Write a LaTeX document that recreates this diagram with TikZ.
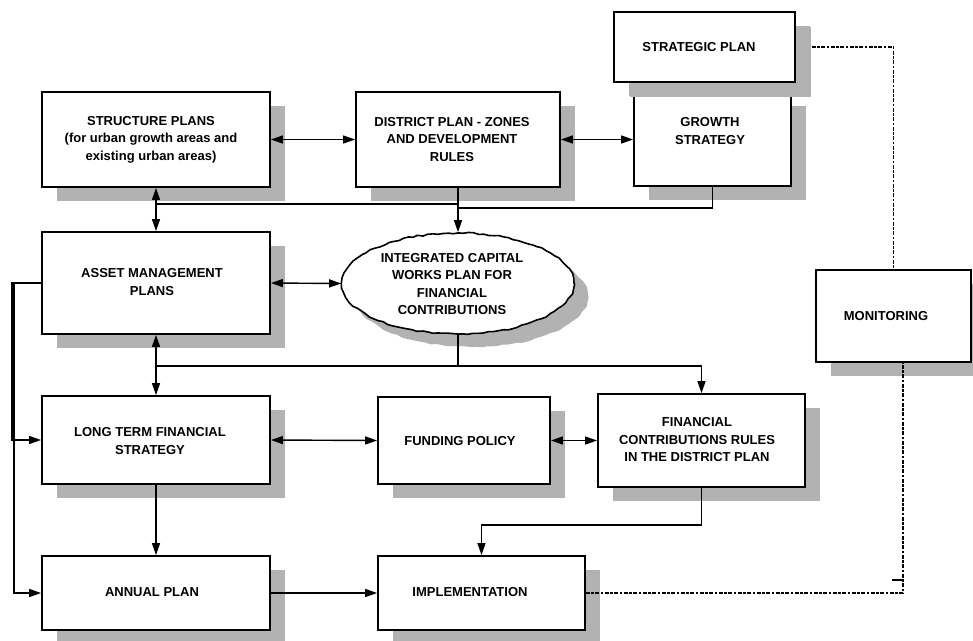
\documentclass[tikz,border=0pt]{standalone}
\usepackage{fontspec}
\setmainfont{Liberation Sans}
\usetikzlibrary{shapes.geometric,arrows.meta,shadows,decorations.pathmorphing}
\definecolor{shadowgray}{RGB}{178,178,178}
\begin{document}
\begin{tikzpicture}[x=1pt,y=-1pt,
  box/.style={draw, line width=1.8pt, fill=white, inner sep=0pt,
    drop shadow={shadow xshift=15pt, shadow yshift=-14pt, fill=shadowgray, opacity=1}},
  txt/.style={font=\fontsize{13}{17.5}\selectfont\bfseries, align=center, inner sep=0pt},
  ln/.style={line width=1.4pt},
  arr/.style={ln, -{Triangle[length=12pt,width=8pt]}},
  darr/.style={ln, {Triangle[length=12pt,width=8pt]}-{Triangle[length=12pt,width=8pt]}},
  dline/.style={line width=1.4pt, dash pattern=on 4pt off 1.5pt on 2.5pt off 1.5pt}]
\useasboundingbox (0,0) rectangle (973,640);
\pgfmathsetseed{7}

% boxes
\node[box, minimum width=228pt, minimum height=95pt] (structure) at (156,139.5) {};
\node[box, minimum width=204pt, minimum height=95pt] (district) at (458,139.5) {};
\node[box, minimum width=157pt, minimum height=94pt] (growth) at (712.5,139) {};
\node[box, minimum width=181pt, minimum height=70pt, drop shadow={shadow xshift=16pt, shadow yshift=-15pt, fill=shadowgray, opacity=1}] (strategic) at (704.5,47) {};
\node[box, minimum width=228pt, minimum height=102pt] (asset) at (156,283) {};
\node[draw, line width=1.6pt, fill=white, ellipse, inner sep=0pt, minimum width=232pt, minimum height=101pt,
  decorate, decoration={random steps, segment length=5pt, amplitude=0.8pt},
  drop shadow={shadow xshift=14pt, shadow yshift=-13pt, fill=shadowgray, opacity=1}] (icwp) at (458,283.5) {};
\node[box, minimum width=155pt, minimum height=92pt] (monitoring) at (893.5,316) {};
\node[box, minimum width=228pt, minimum height=88pt] (ltfs) at (156,440) {};
\node[box, minimum width=172pt, minimum height=87pt] (funding) at (464,440.5) {};
\node[box, minimum width=207pt, minimum height=93pt] (fincon) at (701.5,440.5) {};
\node[box, minimum width=228pt, minimum height=74pt] (annual) at (156,593) {};
\node[box, minimum width=207pt, minimum height=74pt] (impl) at (481.5,593) {};

% texts
\node[txt] (strategicT) at (699,47) {STRATEGIC PLAN};
\node[txt] (growthT) at (710,131) {GROWTH\\STRATEGY};
\node[txt] (structureT) at (151,139.5) {STRUCTURE PLANS\\(for urban growth areas and\\existing urban areas)};
\node[txt] (districtT) at (452,139.5) {DISTRICT PLAN - ZONES\\AND DEVELOPMENT\\RULES};
\node[txt] (assetT) at (152,282) {ASSET MANAGEMENT\\PLANS};
\node[txt] (icwpT) at (452,284) {INTEGRATED CAPITAL\\WORKS PLAN FOR\\FINANCIAL\\CONTRIBUTIONS};
\node[txt] (monitoringT) at (886,316) {MONITORING};
\node[txt] (ltfsT) at (150,441) {LONG TERM FINANCIAL\\STRATEGY};
\node[txt] (fundingT) at (460,441) {FUNDING POLICY};
\node[txt] (finconT) at (697,440) {FINANCIAL\\CONTRIBUTIONS RULES\\IN THE DISTRICT PLAN};
\node[txt] (annualT) at (152,592) {ANNUAL PLAN};
\node[txt] (implT) at (470,592) {IMPLEMENTATION};

% helper coordinates
\coordinate (j1) at (156,204);
\coordinate (jg) at (458,208);
\coordinate (j2) at (156,366);
\coordinate (lp) at (12,0);
\coordinate (lp2) at (14,0);
\coordinate (tk) at (892,580);

% connectors
\draw[darr] (structure.east) -- (district.west);
\draw[darr] (district.east) -- (district.east -| growth.west);
\draw[darr] (structure.south) -- (asset.north);
\draw[ln] (j1) -- (district.south |- j1);
\draw[arr] (district.south) -- (icwp.north);
\draw[ln] (growth.south) |- (jg);
\draw[darr] (asset.east) -- (icwp.west);
\draw[arr] (asset.west) -- (asset.west -| lp) |- (ltfs.west);
\draw[arr] (asset.west) -- (asset.west -| lp2) |- (annual.west);
\draw[darr] (asset.south) -- (ltfs.north);
\draw[ln] (icwp.south) -- (icwp.south |- j2);
\draw[arr] (j2) -| (fincon.north);
\draw[darr] (ltfs.east) -- (funding.west);
\draw[darr] (funding.east) -- (fincon.west);
\draw[arr] (ltfs.south) -- (annual.north);
\draw[arr] (fincon.south) -- ++(0,37) -| (impl.north);
\draw[arr] (annual.east) -- (impl.west);
\draw[dline, shorten <=16pt] (strategic.east) -| (monitoring.north);
\draw[dline] (impl.east) -| ([xshift=9.5pt]monitoring.south);
\draw[ln] (tk) -- ++(10,0);
\end{tikzpicture}
\end{document}
